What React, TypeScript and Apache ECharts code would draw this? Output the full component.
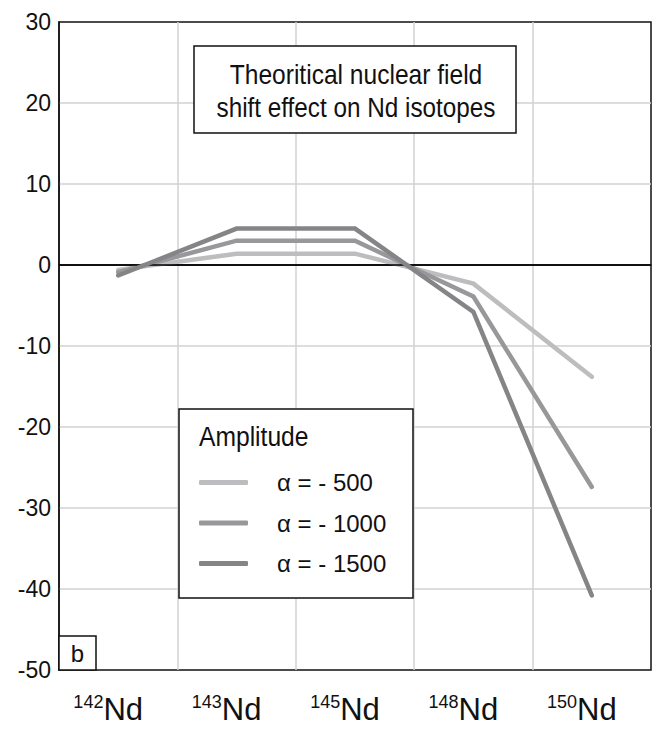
import React, { useEffect, useRef } from "react";
import * as echarts from "echarts";

const categories = ["142", "143", "145", "148", "150"];
const seriesNames = ["α = - 500", "α = - 1000", "α = - 1500"];
const alpha500 = [-0.6, 1.4, 1.4, -2.3, -13.8];
const alpha1000 = [-0.9, 3.0, 3.0, -3.9, -27.4];
const alpha1500 = [-1.3, 4.5, 4.5, -5.8, -40.8];
const seriesColors = ["#bdbdbf", "#98989b", "#858588"];
const yMin = -50;
const yMax = 30;
const yStep = 10;

const SANS = "'Liberation Sans', Arial, sans-serif";

export default function App() {
  const ref = useRef<HTMLDivElement>(null);
  useEffect(() => {
    document.body.style.margin = "0";
    const chart = echarts.init(ref.current!, null, { renderer: "svg" });
    const values = [alpha500, alpha1000, alpha1500];
    const option: any = {
      animation: false,
      backgroundColor: "#ffffff",
      grid: {
        left: 59,
        right: 5,
        top: 22,
        bottom: 65,
        show: true,
        borderColor: "#111",
        borderWidth: 1.5,
        backgroundColor: "transparent",
      },
      xAxis: {
        type: "category",
        data: categories,
        boundaryGap: true,
        axisLine: { show: true, lineStyle: { color: "#111", width: 1.5 } },
        axisTick: { show: false },
        splitLine: {
          show: true,
          showMinLine: false,
          showMaxLine: false,
          lineStyle: { color: "#d2d2d2", width: 1.5 },
        },
        axisLabel: {
          margin: 23,
          padding: [0, 20, 0, 0],
          formatter: (v: string) => `{s|${v}}{n|Nd}`,
          rich: {
            s: { fontSize: 18, fontFamily: SANS, color: "#111", lineHeight: 10, verticalAlign: "top" },
            n: { fontSize: 31, fontFamily: SANS, color: "#111", lineHeight: 32 },
          },
        },
      },
      yAxis: {
        type: "value",
        min: yMin,
        max: yMax,
        interval: yStep,
        axisLine: { show: true, lineStyle: { color: "#111", width: 1.5 } },
        axisTick: { show: false },
        splitLine: {
          show: true,
          showMinLine: false,
          showMaxLine: false,
          lineStyle: { color: "#d2d2d2", width: 1.5 },
        },
        axisLabel: { margin: 8, fontSize: 23, fontFamily: SANS, color: "#111" },
      },
      legend: {
        orient: "vertical",
        left: 194,
        top: 465.5,
        itemWidth: 49,
        itemHeight: 5,
        itemGap: 16.5,
        icon: "roundRect",
        z: 20,
        data: seriesNames,
        textStyle: { fontSize: 24, fontFamily: SANS, color: "#111", padding: [0, 0, 0, 24] },
      },
      graphic: [
        {
          type: "rect",
          z: 10,
          shape: { x: 194, y: 46, width: 322, height: 87 },
          style: { fill: "#fff", stroke: "#111", lineWidth: 1.5 },
        },
        {
          type: "text",
          z: 11,
          x: 356,
          y: 75,
          scaleX: 0.91,
          style: {
            text: "Theoritical nuclear field",
            fontSize: 27,
            fontFamily: SANS,
            fill: "#111",
            align: "center",
            verticalAlign: "middle",
          },
        },
        {
          type: "text",
          z: 11,
          x: 356,
          y: 108,
          scaleX: 0.9,
          style: {
            text: "shift effect on Nd isotopes",
            fontSize: 27,
            fontFamily: SANS,
            fill: "#111",
            align: "center",
            verticalAlign: "middle",
          },
        },
        {
          type: "rect",
          z: 10,
          shape: { x: 179, y: 409, width: 234, height: 189 },
          style: { fill: "#fff", stroke: "#111", lineWidth: 1.5 },
        },
        {
          type: "text",
          z: 11,
          x: 199,
          y: 436,
          scaleX: 0.88,
          style: {
            text: "Amplitude",
            fontSize: 28,
            fontFamily: SANS,
            fill: "#111",
            align: "left",
            verticalAlign: "middle",
          },
        },
        {
          type: "rect",
          z: 10,
          shape: { x: 59, y: 636, width: 37, height: 34 },
          style: { fill: "#fff", stroke: "#111", lineWidth: 1.5 },
        },
        {
          type: "text",
          z: 11,
          x: 77.5,
          y: 653,
          style: {
            text: "b",
            fontSize: 24,
            fontFamily: SANS,
            fill: "#111",
            align: "center",
            verticalAlign: "middle",
          },
        },
      ],
      series: [
        {
          type: "line",
          data: [],
          z: 1,
          silent: true,
          markLine: {
            silent: true,
            symbol: ["none", "none"],
            label: { show: false },
            lineStyle: { color: "#000", width: 1.5, type: "solid" },
            data: [{ yAxis: 0 }],
          },
        },
        ...seriesNames.map((name, i) => ({
          name,
          type: "line",
          data: values[i],
          z: 3 + i,
          symbol: "none",
          color: seriesColors[i],
          lineStyle: { color: seriesColors[i], width: 4.5, cap: "round", join: "miter" },
          itemStyle: { color: seriesColors[i] },
        })),
      ],
    };
    chart.setOption(option);
    return () => chart.dispose();
  }, []);
  return <div ref={ref} style={{ width: 656, height: 735 }} />;
}
